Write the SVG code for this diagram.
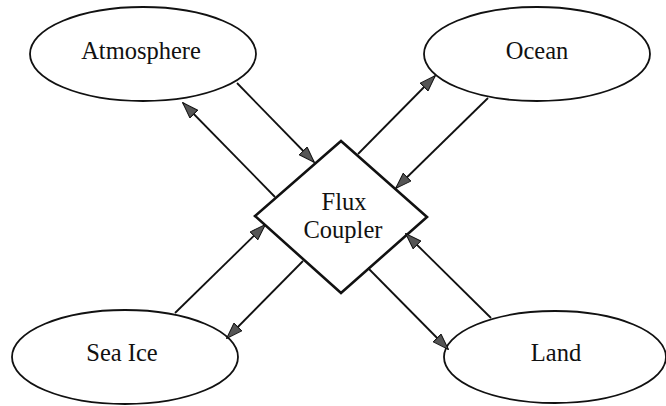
<svg xmlns="http://www.w3.org/2000/svg" width="666" height="406" viewBox="0 0 666 406">
<style>
.node ellipse{fill:#fff;stroke:#111;stroke-width:1.8}
.node polygon{fill:#fff;stroke:#111;stroke-width:2.6;stroke-linejoin:miter}
text{font-family:"Liberation Serif","Times New Roman",serif;font-size:24.5px;fill:#111;text-anchor:middle}
.conn line{stroke:#111;stroke-width:1.8;marker-end:url(#ah)}
</style>
<defs>
<marker id="ah" viewBox="0 0 17 12" refX="16" refY="6" markerWidth="17" markerHeight="12" orient="auto" markerUnits="userSpaceOnUse">
<path d="M0.5,0.5 L16.5,6 L0.5,11.5 z" fill="#555" stroke="#111" stroke-width="1"/>
</marker>
</defs>
<rect width="666" height="406" fill="#fff"/>
<g id="atmosphere" class="node"><ellipse cx="143" cy="54" rx="113" ry="47"/><text x="141" y="59">Atmosphere</text></g>
<g id="ocean" class="node"><ellipse cx="537" cy="54" rx="113" ry="47"/><text x="537" y="59">Ocean</text></g>
<g id="seaice" class="node"><ellipse cx="125" cy="357" rx="113" ry="47"/><text x="122" y="361">Sea Ice</text></g>
<g id="land" class="node"><ellipse cx="555" cy="357" rx="111" ry="46"/><text x="556" y="361">Land</text></g>
<g id="coupler" class="node"><polygon points="341,141 427,217 341,293 255,216"/><text x="344" y="210">Flux</text><text x="343" y="238">Coupler</text></g>
<g id="connectors" class="conn">
<line x1="237" y1="83" x2="314" y2="162"/>
<line x1="275" y1="197" x2="183" y2="103"/>
<line x1="358" y1="154" x2="435" y2="76"/>
<line x1="488" y1="98" x2="396" y2="188"/>
<line x1="175" y1="313" x2="265" y2="225"/>
<line x1="303" y1="261" x2="227" y2="338"/>
<line x1="368" y1="268" x2="448" y2="349"/>
<line x1="491" y1="318" x2="406" y2="234"/>
</g>
</svg>
